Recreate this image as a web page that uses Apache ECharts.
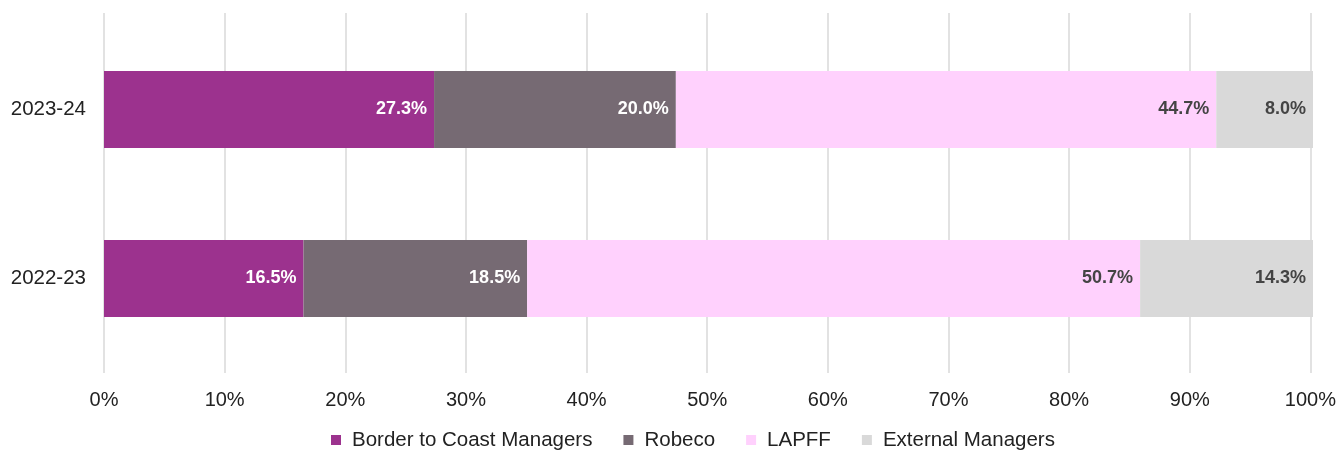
<!DOCTYPE html>
<html>
<head>
<meta charset="utf-8">
<script src="https://cdn.jsdelivr.net/npm/echarts@6/dist/echarts.min.js"></script>
<style>
  html, body { margin: 0; padding: 0; background: #fff; }
  #chart { width: 1339px; height: 451px; }
</style>
</head>
<body>
<div id="chart"></div>
<script>
// Share of engagement by source, per year (percent)
const years = ['2022-23', '2023-24'];
const borderToCoast = [16.5, 27.3];
const robeco = [18.5, 20.0];
const lapff = [50.7, 44.7];
const externalManagers = [14.3, 8.0];
const xTicks = [0, 10, 20, 30, 40, 50, 60, 70, 80, 90, 100];

const font = '"Liberation Sans", Arial, sans-serif';

function seriesOf(name, data, color, labelColor) {
  return {
    name: name,
    type: 'bar',
    stack: 'total',
    xAxisIndex: 0,
    yAxisIndex: 0,
    barWidth: 77,
    data: data,
    itemStyle: { color: color },
    label: {
      show: true,
      position: 'insideRight',
      distance: 7,
      color: labelColor,
      fontFamily: font,
      fontWeight: 'bold',
      fontSize: 18,
      formatter: p => p.value.toFixed(1) + '%'
    },
    emphasis: { disabled: true }
  };
}

const chart = echarts.init(document.getElementById('chart'));
chart.setOption({
  animation: false,
  backgroundColor: '#fff',
  legend: {
    top: 429,
    left: 331,
    padding: 0,
    itemWidth: 10,
    itemHeight: 10,
    itemGap: 31,
    icon: 'rect',
    textStyle: {
      fontFamily: font, fontSize: 20.5, color: '#222',
      lineHeight: 22, padding: [0, 0, 0, 6]
    },
    data: ['Border to Coast Managers', 'Robeco', 'LAPFF', 'External Managers']
  },
  grid: [
    // bars
    { left: 104, right: 26, top: 25, bottom: 88 },
    // gridlines and percentage ticks
    { left: 104, right: 26, top: 13, bottom: 78 }
  ],
  xAxis: [
    {
      gridIndex: 0, type: 'value', min: 0, max: 100, interval: 10,
      show: false
    },
    {
      gridIndex: 1, type: 'value', min: 0, max: 100, interval: 10,
      axisLine: { show: false },
      axisTick: { show: false },
      splitLine: { show: true, lineStyle: { color: '#d9d9d9', width: 1.5 } },
      axisLabel: {
        margin: 17,
        fontFamily: font, fontSize: 20, color: '#222',
        formatter: v => xTicks.includes(v) ? v + '%' : ''
      }
    }
  ],
  yAxis: [
    {
      gridIndex: 0, type: 'category', data: years,
      axisLine: { show: false },
      axisTick: { show: false },
      axisLabel: { margin: 18, fontFamily: font, fontSize: 20.5, color: '#222' }
    },
    {
      gridIndex: 1, type: 'category', data: years, show: false
    }
  ],
  series: [
    seriesOf('Border to Coast Managers', borderToCoast, '#9c328e', '#ffffff'),
    seriesOf('Robeco', robeco, '#766a73', '#ffffff'),
    seriesOf('LAPFF', lapff, '#ffd1fd', '#444444'),
    seriesOf('External Managers', externalManagers, '#d9d9d9', '#444444')
  ]
});
</script>
</body>
</html>
